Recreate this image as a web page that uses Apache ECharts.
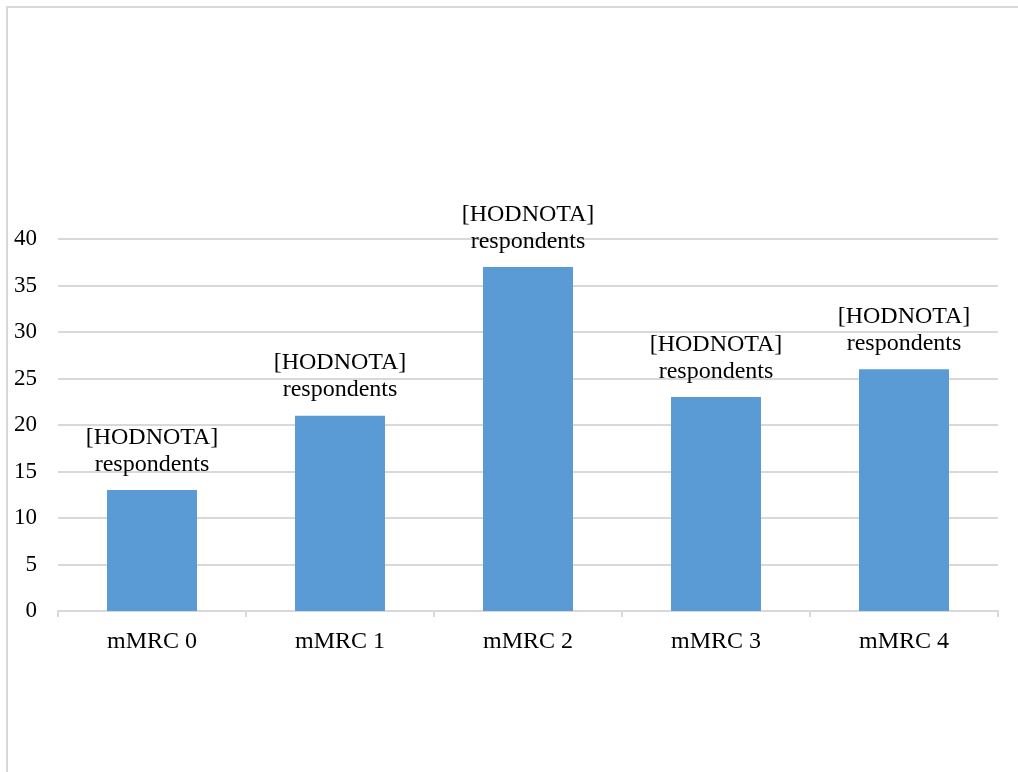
<!DOCTYPE html>
<html>
<head>
<meta charset="utf-8">
<style>
  html, body { margin: 0; padding: 0; background: #fff; }
  #chart { width: 1018px; height: 772px; }
</style>
<script src="https://cdn.jsdelivr.net/npm/echarts@6/dist/echarts.min.js"></script>
</head>
<body>
<div id="chart"></div>
<script>
// mMRC dyspnoea grades and respondent counts
const categories = ['mMRC 0', 'mMRC 1', 'mMRC 2', 'mMRC 3', 'mMRC 4'];
const respondents = [13, 21, 37, 23, 26];
const yTicks = { min: 0, max: 40, step: 5 };
const labelText = '[HODNOTA]\nrespondents';

const font = '"Liberation Serif", "Times New Roman", serif';
const chart = echarts.init(document.getElementById('chart'), null, { renderer: 'canvas' });

chart.setOption({
  backgroundColor: '#ffffff',
  animation: false,
  graphic: [{
    type: 'rect',
    shape: { x: 7, y: 7, width: 1030, height: 800 },
    style: { fill: 'none', stroke: '#d9d9d9', lineWidth: 2 },
    silent: true
  }],
  grid: { left: 58, right: 20, top: 239, bottom: 161, containLabel: false },
  xAxis: {
    type: 'category',
    data: categories,
    axisLine: { show: true, lineStyle: { color: '#d9d9d9', width: 2 } },
    axisTick: { show: true, length: 6, lineStyle: { color: '#d9d9d9', width: 2 } },
    axisLabel: { color: '#000', fontFamily: font, fontSize: 24, margin: 19 }
  },
  yAxis: {
    type: 'value',
    min: yTicks.min,
    max: yTicks.max,
    interval: yTicks.step,
    axisLine: { show: false },
    axisTick: { show: false },
    axisLabel: { color: '#000', fontFamily: font, fontSize: 23, margin: 21, align: 'right' },
    splitLine: { lineStyle: { color: '#d9d9d9', width: 2 } }
  },
  series: [{
    type: 'bar',
    data: respondents,
    barWidth: 90,
    itemStyle: { color: '#5b9bd5' },
    label: {
      show: true,
      position: 'top',
      distance: 12,
      formatter: labelText,
      color: '#000',
      fontFamily: font,
      fontSize: 24,
      lineHeight: 27,
      align: 'center'
    }
  }]
});
</script>
</body>
</html>
